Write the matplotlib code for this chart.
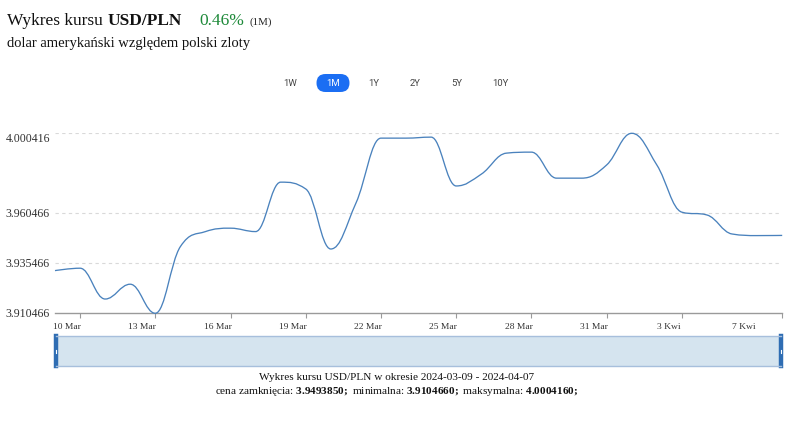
import numpy as np
import matplotlib
matplotlib.use("Agg")
import matplotlib.pyplot as plt
import matplotlib.dates as mdates
from matplotlib.path import Path
from matplotlib.patches import PathPatch, FancyBboxPatch
from matplotlib.transforms import ScaledTranslation, blended_transform_factory
import datetime as dt

plt.rcParams["mathtext.fontset"] = "custom"
plt.rcParams["mathtext.rm"] = "Liberation Serif"
plt.rcParams["mathtext.bf"] = "Liberation Serif:bold"

# ---------------- data ----------------
start_date = dt.date(2024, 3, 9)
rates = [3.9318, 3.9330, 3.9176, 3.9250, 3.910466, 3.9438, 3.9513, 3.9530,
         3.9513, 3.9760, 3.9726, 3.9426, 3.9655, 3.9980, 3.9980, 3.9985,
         3.9741, 3.9800, 3.9905, 3.9910, 3.9780, 3.9780, 3.9846, 4.000416,
         3.9846, 3.9610, 3.9596, 3.9501, 3.9493, 3.949385]
dates = [start_date + dt.timedelta(days=i) for i in range(len(rates))]

ytick_vals = [3.910466, 3.935466, 3.960466, 4.000416]
tick_dates = [dt.date(2024, 3, d) for d in (10, 13, 16, 19, 22, 25, 28, 31)] + \
             [dt.date(2024, 4, 3), dt.date(2024, 4, 7)]
label_dates = [dt.date(2024, 3, d) for d in (10, 13, 16, 19, 22, 25, 28, 31)] + \
              [dt.date(2024, 4, 3), dt.date(2024, 4, 6)]
label_texts = ["10 Mar", "13 Mar", "16 Mar", "19 Mar", "22 Mar", "25 Mar",
               "28 Mar", "31 Mar", "3 Kwi", "7 Kwi"]
buttons = ["1W", "1M", "1Y", "2Y", "5Y", "10Y"]
active_button = "1M"
close_val, min_val, max_val = "3.9493850", "3.9104660", "4.0004160"

W, H = 799, 423
SERIF = ["Liberation Serif", "DejaVu Serif"]
SANS = ["Roboto", "DejaVu Sans"]

fig = plt.figure(figsize=(W / 100, H / 100), dpi=100)
fig.patch.set_facecolor("white")


def fx(x):
    return x / W


def fy(y):
    return 1 - y / H


# ---------------- main axes ----------------
ax_l, ax_r, ax_t, ax_b = 55, 782.2, 133.3, 313.3
ax = fig.add_axes([fx(ax_l), fy(ax_b), (ax_r - ax_l) / W, (ax_b - ax_t) / H])
xnum = mdates.date2num(dates)
ax.set_xlim(xnum[0], xnum[-1])
ax.set_ylim(ytick_vals[0], ytick_vals[-1])


# Highcharts-like spline
def spline_path(xs, ys, smoothing=1.5):
    n = len(xs)
    lc = [(xs[i], ys[i]) for i in range(n)]
    rc = [(xs[i], ys[i]) for i in range(n)]
    denom = smoothing + 1
    for i in range(1, n - 1):
        px, py = xs[i], ys[i]
        lx, ly = xs[i - 1], ys[i - 1]
        nx, ny = xs[i + 1], ys[i + 1]
        lcx = (smoothing * px + lx) / denom
        lcy = (smoothing * py + ly) / denom
        rcx = (smoothing * px + nx) / denom
        rcy = (smoothing * py + ny) / denom
        corr = 0
        if rcx != lcx:
            corr = (rcy - lcy) * (rcx - px) / (rcx - lcx) + py - rcy
        lcy += corr
        rcy += corr
        if lcy > ly and lcy > py:
            lcy = max(ly, py); rcy = 2 * py - lcy
        elif lcy < ly and lcy < py:
            lcy = min(ly, py); rcy = 2 * py - lcy
        if rcy > ny and rcy > py:
            rcy = max(ny, py); lcy = 2 * py - rcy
        elif rcy < ny and rcy < py:
            rcy = min(ny, py); lcy = 2 * py - rcy
        lc[i] = (lcx, lcy)
        rc[i] = (rcx, rcy)
    verts = [(xs[0], ys[0])]
    codes = [Path.MOVETO]
    for i in range(1, n):
        verts += [rc[i - 1], lc[i], (xs[i], ys[i])]
        codes += [Path.CURVE4] * 3
    return Path(verts, codes)


ax.add_patch(PathPatch(spline_path(list(xnum), rates), facecolor="none",
                       edgecolor="#4a82bd", lw=0.95, clip_on=False, zorder=3))

for s in ("top", "left", "right"):
    ax.spines[s].set_visible(False)
ax.spines["bottom"].set_color("#9a9a9a")
ax.spines["bottom"].set_linewidth(1)

# grid
for v in ytick_vals[1:]:
    ax.axhline(v, color="#d9d9d9", lw=0.8, ls=(0, (3, 3)), zorder=1)

ax.set_yticks([])
ax.set_xticks(mdates.date2num(tick_dates))
ax.tick_params(axis="x", direction="out", length=3.6, width=0.8, color="#9a9a9a",
               labelbottom=False)

# y labels
ytr = blended_transform_factory(ax.transAxes, ax.transData)
for i, v in enumerate(ytick_vals):
    off = -6 / 100 if i == len(ytick_vals) - 1 else -1 / 100
    ax.text(0, v, f"{v:.6f}", transform=ytr + ScaledTranslation(-5 / 100, off, fig.dpi_scale_trans),
            ha="right", va="center", fontsize=8.6, family=SERIF, color="#333333")

# x labels
xtr = blended_transform_factory(ax.transData, ax.transAxes)
for d, t in zip(label_dates, label_texts):
    ax.text(mdates.date2num(d), 0, t,
            transform=xtr + ScaledTranslation(-13 / 100, -14 / 100, fig.dpi_scale_trans),
            ha="center", va="center", fontsize=6.8, family=SERIF, color="#333333")

# ---------------- navigator ----------------
nav = fig.add_axes([fx(56), fy(366), (781 - 56) / W, 30 / H])
nav.set_facecolor("#d5e4ef")
nav.set_xticks([]); nav.set_yticks([])
for s in ("left", "right"):
    nav.spines[s].set_color("#2f6db3")
    nav.spines[s].set_linewidth(3.2)
for s in ("top", "bottom"):
    nav.spines[s].set_color("#a7bfdc")
    nav.spines[s].set_linewidth(1)
for xx in (0, 1):
    nav.plot([xx, xx], [0.45, 0.55], color="white", lw=0.8, transform=nav.transAxes,
             clip_on=False, zorder=5)

# ---------------- titles ----------------
fig.text(fx(7), fy(21), "Wykres kursu", fontsize=12.5, family=SERIF, color="#111111",
         va="center", ha="left")
fig.text(fx(108), fy(21), "USD/PLN", fontsize=12.5, family=SERIF, weight="bold",
         color="#111111", va="center", ha="left")
fig.text(fx(199), fy(21), "0.46%", fontsize=12.5, family=SERIF, color="#1e8a3a",
         va="center", ha="left")
fig.text(fx(250), fy(22), "(1M)", fontsize=7.8, family=SERIF, color="#222222",
         va="center", ha="left")
fig.text(fx(7), fy(43), "dolar amerykański względem polski zloty", fontsize=10.5,
         family=SERIF, color="#111111", va="center", ha="left")

# ---------------- range buttons ----------------
btn_x = [290, 333, 374, 415, 457, 500]
for b, bx in zip(buttons, btn_x):
    if b == active_button:
        p = FancyBboxPatch(((bx - 16.5) / 100, (H - 92) / 100), 33 / 100, 18 / 100,
                           boxstyle="round,pad=0,rounding_size=0.09",
                           transform=fig.dpi_scale_trans, facecolor="#1b6ef3",
                           edgecolor="none")
        fig.patches.append(p)
        fig.text(fx(bx), fy(83), b, fontsize=6.8, family=SANS, color="white",
                 ha="center", va="center")
    else:
        fig.text(fx(bx), fy(83), b, fontsize=6.8, family=SANS, color="#444444",
                 ha="center", va="center")

# ---------------- caption ----------------
CAP_FS = 8.1
fig.text(fx(397), fy(377), "Wykres kursu USD/PLN w okresie 2024-03-09 - 2024-04-07",
         fontsize=CAP_FS, family=SERIF, color="#111111", ha="center", va="center")
line2 = (r"cena zamknięcia: $\mathbf{" + close_val + r";}$ minimalna: $\mathbf{" + min_val +
         r";}$ maksymalna: $\mathbf{" + max_val + r";}$")
fig.text(fx(397), fy(391), line2, fontsize=CAP_FS, family=SERIF, color="#111111",
         ha="center", va="center")

fig.savefig("out.png", dpi=100, facecolor="white")
